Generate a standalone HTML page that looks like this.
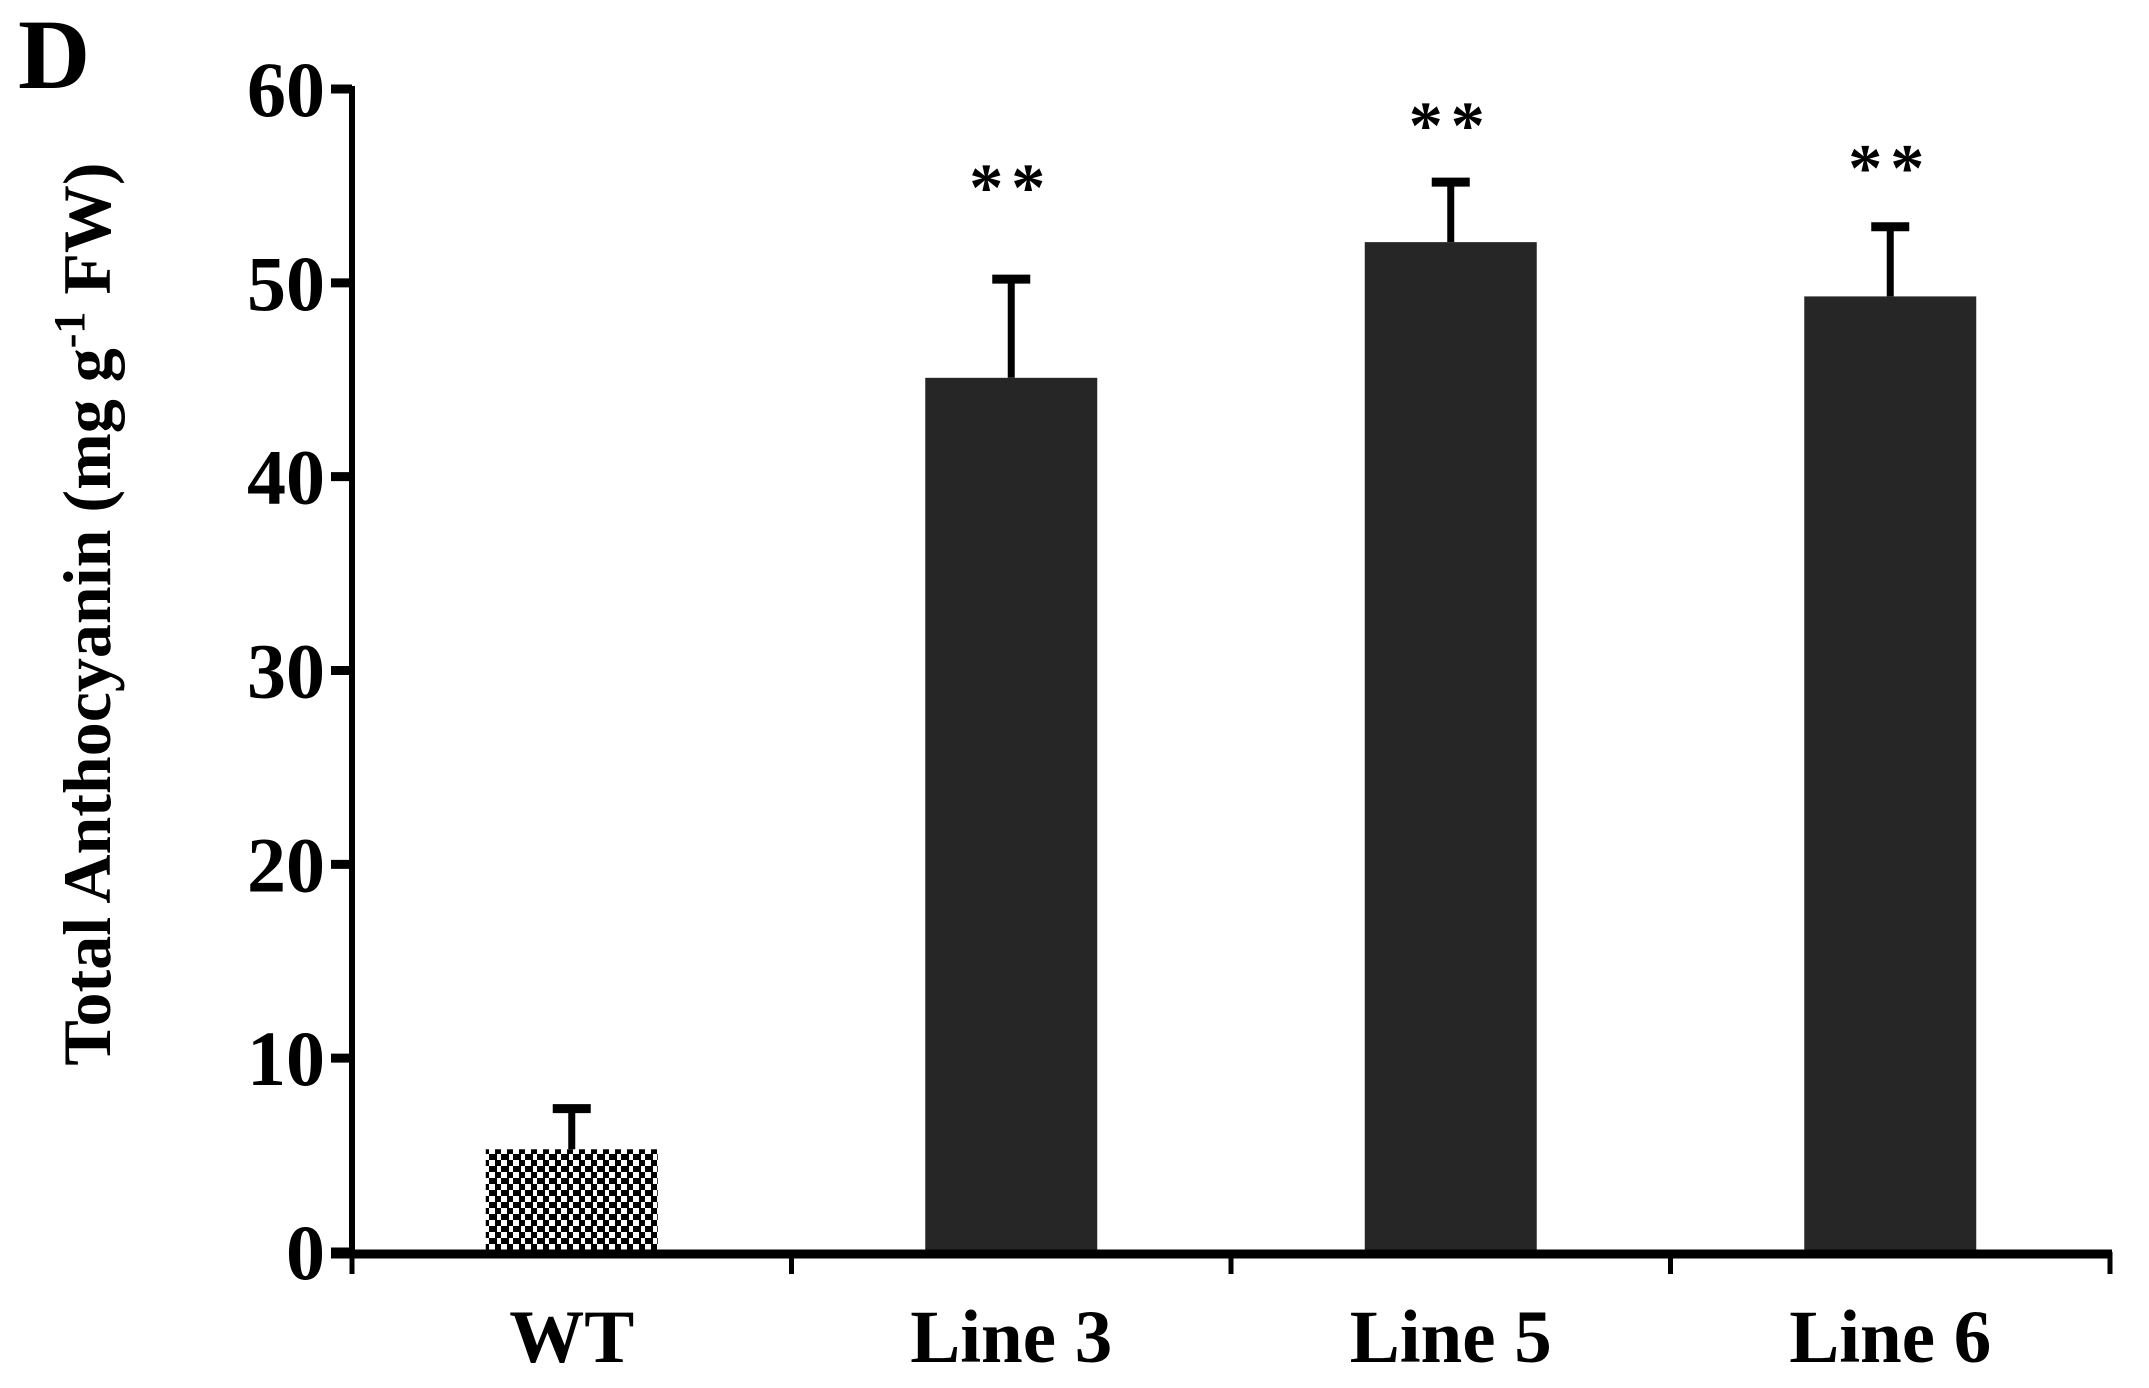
<!DOCTYPE html>
<html><head><meta charset="utf-8"><style>
html,body{margin:0;padding:0;background:#fff;}
svg text{font-family:"Liberation Serif",serif;font-weight:bold;fill:#000;}
</style></head><body>
<svg width="2149" height="1383" viewBox="0 0 2149 1383">
<defs>
<pattern id="chk" width="12" height="12" patternUnits="userSpaceOnUse" x="483" y="1148">
<rect width="12" height="12" fill="#fff"/>
<rect width="6" height="6" fill="#000"/>
<rect x="6" y="6" width="6" height="6" fill="#000"/>
<rect x="0" y="6" width="2" height="6" fill="#000"/>
</pattern>
</defs>
<text x="18" y="88" font-size="100">D</text>
<text transform="translate(110,614) rotate(-90)" text-anchor="middle" font-size="68">Total Anthocyanin (mg g<tspan dy="-26" font-size="44">-1</tspan><tspan dy="26"> FW)</tspan></text>
<g id="plot"></g>
</svg>
<script>
const categories=["WT","Line 3","Line 5","Line 6"];
const values=[5.3,45.1,52.1,49.3];
const errors=[2.3,5.3,3.3,3.8];
const stars=["","**","**","**"];
const starLevels=[0,55.0,58.2,56.0];
const yTicks=[0,10,20,30,40,50,60];
const NS="http://www.w3.org/2000/svg";
const g=document.getElementById('plot');
const x0=352,bandW=439.5,y0=1252,yTop=89,yMax=60,barW=172;
function y(v){return y0-(v/yMax)*(y0-yTop);}
function bx(i){return x0+bandW*i+bandW/2;}
function mk(tag,attrs,parent){const e=document.createElementNS(NS,tag);for(const k in attrs)e.setAttribute(k,attrs[k]);(parent||g).appendChild(e);return e;}
let ya=mk('line',{x1:352,y1:yTop-3,x2:352,y2:y0+4,stroke:'#000','stroke-width':6});


yTicks.forEach(t=>{
  let tk=mk('line',{x1:331,y1:y(t),x2:352,y2:y(t),stroke:'#000','stroke-width':9});
  
  
  let tl=mk('text',{x:325,y:y(t)+27,'text-anchor':'end','font-size':78});
  tl.textContent=t;
  
  
});
values.forEach((v,i)=>{
  const cx=bx(i);
  let b=mk('rect',{x:cx-barW/2,y:y(v),width:barW,height:y0-y(v),fill:i===0?'url(#chk)':'#262626'});
  
  
  const et=y(v+errors[i]);
  let s=mk('line',{x1:cx,y1:y(v),x2:cx,y2:et,stroke:'#000','stroke-width':7});
  
  
  let c=mk('line',{x1:cx-19,y1:et+4,x2:cx+19,y2:et+4,stroke:'#000','stroke-width':9});
  
  
  if(stars[i]){
    let st=mk('text',{x:cx,y:y(starLevels[i])+24,'text-anchor':'middle','font-size':68,'letter-spacing':8});
    st.textContent=stars[i];
    
    
  }
  let cl=mk('text',{x:cx,y:1362,'text-anchor':'middle','font-size':75});
  cl.textContent=categories[i];
  
  
});
let xa=mk('line',{x1:331,y1:y0+2,x2:2112,y2:y0+2,stroke:'#000','stroke-width':9});


for(let i=0;i<=categories.length;i++){
  const xx=x0+bandW*i;
  let tk=mk('line',{x1:xx,y1:y0,x2:xx,y2:1274,stroke:'#000','stroke-width':5});
  
  
}
</script>
</body></html>
